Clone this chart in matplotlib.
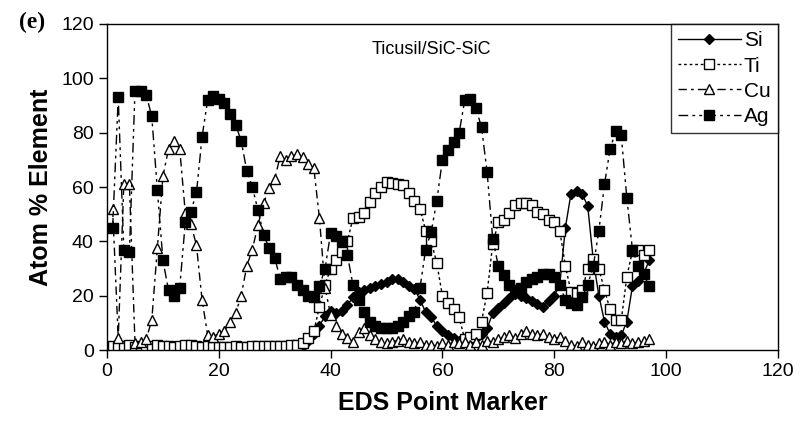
import matplotlib.pyplot as plt

plt.rcParams['font.family'] = ['Liberation Sans', 'DejaVu Sans']

# EDS point index 1..97
points = list(range(1, 98))

si = [0.3, 0.3, 0.2, 0.3, 0.3, 0.2, 0.3, 0.3, 0.2, 0.3,
      0.3, 0.2, 0.3, 0.3, 0.2, 0.3, 0.3, 0.2, 0.3, 0.3,
      0.2, 0.3, 0.3, 0.2, 0.3, 0.3, 0.2, 0.3, 0.3, 0.2,
      0.3, 0.3, 0.4, 0.6, 1.5, 3.5, 6, 9, 12.5, 14.5,
      13.5, 14.5, 16.5, 19.5, 21.5, 22.3, 23, 23.6, 24.5, 25.1,
      26, 26.3, 25.1, 23.6, 22.5, 18.5, 14, 12, 9, 7,
      5.5, 4.3, 3.4, 3, 3.5, 4.5, 6, 8, 13.5, 15.5,
      17.5, 19, 20.5, 20, 19, 18, 17, 16, 18, 20,
      24, 45, 57.5, 58.5, 57.5, 53, 33, 20, 10.5, 6,
      5, 5.5, 10.5, 23.5, 25.5, 28, 33]

ti = [1.5, 1, 1.5, 2, 1, 1.5, 1, 1.5, 2, 1.5,
      1.5, 1, 1.5, 2, 2, 1.5, 1, 1.5, 1, 1,
      1, 1, 1.5, 1, 1, 1.5, 1.5, 1.5, 1.5, 1.5,
      1.5, 1.5, 2, 2, 2.5, 4.5, 7, 16, 24, 30,
      33, 36, 40, 48.5, 49, 50.3, 54.6, 57.7, 60, 61.9,
      61.5, 61.3, 60.7, 57.7, 55, 52, 44, 40, 32, 20,
      17.5, 15, 12, 4, 5, 6, 10.5, 21, 39, 47,
      48, 50.3, 53.4, 54, 54, 53.5, 51, 50, 48, 47,
      44, 31, 21.5, 21, 22, 30, 33.5, 30, 22, 15,
      11, 11, 27, 36.5, 37, 35, 37]

cu = [52, 4.5, 61, 61, 2.5, 3, 4, 11, 37.5, 64,
      74, 77, 74, 50.5, 46.5, 38.5, 18.5, 5.5, 5, 6,
      7, 10.5, 13.5, 20, 31, 37, 46, 54, 59.5, 63,
      71.5, 70, 71.5, 72, 71, 68.5, 67, 48.5, 23, 13,
      9, 6, 4.5, 3, 6.5, 8, 5.5, 4, 3, 2.5,
      3, 3.5, 4, 3, 2.5, 3, 2, 2, 1.5, 2.5,
      2, 3, 2.5, 3, 2, 3, 2, 3.5, 3, 4,
      5, 5.5, 4.5, 6, 7, 6, 5.5, 6, 5, 4,
      5, 3.5, 2, 1.5, 3, 2, 1.5, 2.5, 3, 2,
      3, 2.5, 3.5, 2.5, 3, 3.5, 4]

ag = [45, 93, 37, 36, 95.5, 95.5, 94, 86, 59, 33,
      22, 20, 23, 47, 51, 58, 78.5, 92, 93.5, 92.5,
      91, 87, 83, 77, 66, 60, 51.5, 42.5, 37.5, 34,
      26, 27, 27, 24, 22, 20, 19.5, 23.5, 30, 43,
      42, 40, 35, 24, 18.5, 14, 10.5, 9, 8, 8,
      8, 9, 10.5, 12.5, 14, 23, 37, 43.5, 55, 70,
      73.5, 76.5, 80, 92, 92.5, 89, 82, 65.5, 41, 31,
      27.5, 24, 22, 23, 25, 26, 27, 28, 28, 27,
      24, 18.5, 17.5, 16.5, 19.5, 24, 31, 44, 61, 74,
      80.5, 79, 56, 37, 31, 28, 23.5]

fig = plt.figure(figsize=(8.11, 4.36), dpi=100)
ax = fig.add_axes([0.132, 0.197, 0.827, 0.748])

ax.plot(points, si, color='black', lw=1, ls='-', marker='D', ms=5.5,
        mfc='black', mec='black', label='Si')
ax.plot(points, ti, color='black', lw=1, ls=(0, (2, 2)), marker='s', ms=7,
        mfc='white', mec='black', mew=1, label='Ti')
ax.plot(points, cu, color='black', lw=1, ls=(0, (6, 3, 2, 3)), marker='^', ms=7.5,
        mfc='white', mec='black', mew=1, label='Cu')
ax.plot(points, ag, color='black', lw=1, ls=(0, (7, 3, 2, 3, 2, 3)), marker='s', ms=7,
        mfc='black', mec='black', label='Ag')

ax.set_xlim(0, 120)
ax.set_ylim(0, 120)
ax.set_xticks(range(0, 121, 20))
ax.set_yticks(range(0, 121, 20))
ax.tick_params(direction='out', length=6, width=1, labelsize=14, colors='black')
for s in ax.spines.values():
    s.set_linewidth(1)

ax.set_xlabel('EDS Point Marker', fontsize=18, fontweight='bold', labelpad=8)
ax.set_ylabel('Atom % Element', fontsize=18, fontweight='bold', labelpad=6)

ax.text(58, 110.5, 'Ticusil/SiC-SiC', fontsize=13, ha='center', va='center')
fig.text(0.024, 0.948, '(e)', fontsize=17, fontweight='bold',
         family='Liberation Serif', va='center')

leg = ax.legend(loc='upper right', fontsize=15, frameon=True, fancybox=False,
                edgecolor='black', handlelength=3.0, handletextpad=0.15,
                labelspacing=0.3, borderpad=0.35, borderaxespad=0.0,
                markerfirst=True)
leg.get_frame().set_linewidth(1)

plt.savefig('out.png', dpi=100)
